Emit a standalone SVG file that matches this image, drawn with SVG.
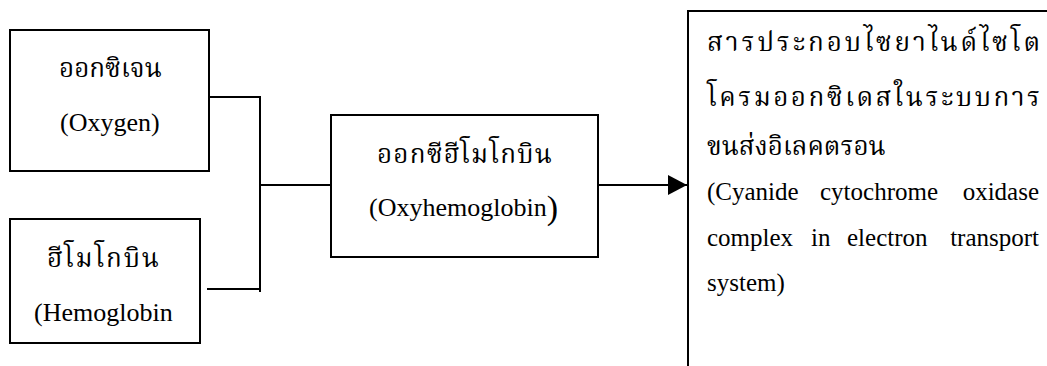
<svg xmlns="http://www.w3.org/2000/svg" width="1047" height="366" viewBox="0 0 1047 366">
  <style>
    .box { fill: #ffffff; stroke: #000000; stroke-width: 2; }
    .open { fill: none; stroke: #000000; stroke-width: 2; }
    .wire { fill: none; stroke: #000000; stroke-width: 2; }
    .th { font-family: "Liberation Serif", "Noto Serif Thai", serif; font-size: 26px; fill: #000000; }
    .en { font-family: "Liberation Serif", serif; font-size: 26px; fill: #000000; }
    .en2 { font-family: "Liberation Serif", serif; font-size: 25px; fill: #000000; }
  </style>
  <defs>
    <marker id="arrow" markerWidth="20" markerHeight="20" refX="19" refY="10" orient="auto" markerUnits="userSpaceOnUse">
      <path d="M0,0 L19,10 L0,20 Z" fill="#000000"/>
    </marker>
  </defs>
  <rect width="1047" height="366" fill="#ffffff"/>

  <g id="connectors">
    <polyline class="wire" points="207,97 260,97 260,292"/>
    <line class="wire" x1="207" y1="289" x2="260" y2="289"/>
    <line class="wire" x1="260" y1="185" x2="331" y2="185"/>
    <line class="wire" x1="598" y1="185" x2="687" y2="185" marker-end="url(#arrow)"/>
  </g>

  <g id="oxygen">
    <rect class="box" x="10" y="30" width="199" height="141"/>
    <text class="th" x="59" y="77">ออกซิเจน</text>
    <text class="en" x="60" y="131">(Oxygen)</text>
  </g>

  <g id="hemoglobin">
    <rect class="box" x="10" y="219" width="190" height="124"/>
    <text class="th" x="47" y="267" textLength="112" lengthAdjust="spacing">ฮีโมโกบิน</text>
    <text class="en" x="34" y="321">(Hemoglobin</text>
  </g>

  <g id="oxyhemoglobin">
    <rect class="box" x="331" y="115" width="267" height="142"/>
    <text class="th" x="377" y="163" textLength="175" lengthAdjust="spacing">ออกซีฮีโมโกบิน</text>
    <text class="en" x="369" y="216">(Oxyhemoglobin<tspan font-size="34px" dy="3">)</tspan></text>
  </g>

  <g id="cyanide-complex">
    <polyline class="open" points="1048,11 688,11 688,367"/>
    <text class="th" x="707" y="51" textLength="333" lengthAdjust="spacing">สารประกอบไซยาไนด์ไซโต</text>
    <text class="th" x="707" y="106" textLength="333" lengthAdjust="spacing">โครมออกซิเดสในระบบการ</text>
    <text class="th" x="707" y="155">ขนส่งอิเลคตรอน</text>
    <text class="en2" y="200"><tspan x="707">(Cyanide</tspan><tspan x="820">cytochrome</tspan><tspan x="1039" text-anchor="end">oxidase</tspan></text>
    <text class="en2" y="246"><tspan x="707">complex</tspan><tspan x="811">in</tspan><tspan x="847">electron</tspan><tspan x="1039" text-anchor="end">transport</tspan></text>
    <text class="en2" x="707" y="291">system)</text>
  </g>
</svg>
